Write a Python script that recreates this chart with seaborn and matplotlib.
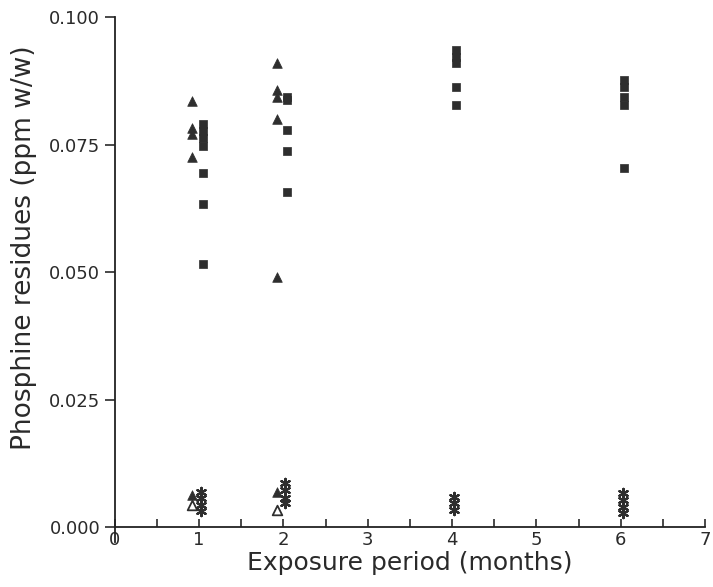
import matplotlib
matplotlib.use("Agg")
import matplotlib.pyplot as plt
import numpy as np
import pandas as pd
import seaborn as sns
from matplotlib.ticker import MultipleLocator

# Phosphine residues (ppm w/w) by exposure period (months)
sq_months = [1, 1, 1, 1, 1, 1, 1, 2, 2, 2, 2, 2, 4, 4, 4, 4, 4, 6, 6, 6, 6, 6]
sq_resid = [0.0790, 0.0776, 0.0763, 0.0747, 0.0694, 0.0633, 0.0516,
            0.0843, 0.0837, 0.0778, 0.0737, 0.0657,
            0.0935, 0.0922, 0.0910, 0.0863, 0.0827,
            0.0876, 0.0863, 0.0843, 0.0827, 0.0704]

tri_months = [1, 1, 1, 1, 1, 2, 2, 2, 2, 2, 2]
tri_resid = [0.0835, 0.0782, 0.0771, 0.0725, 0.0063,
             0.0910, 0.0857, 0.0843, 0.0800, 0.0490, 0.0069]

star_months = [1, 1, 1, 1, 2, 2, 2, 2, 4, 4, 4, 6, 6, 6, 6]
star_resid = [0.0069, 0.0057, 0.0043, 0.0031,
              0.0086, 0.0073, 0.0057, 0.0047,
              0.0059, 0.0047, 0.0033,
              0.0067, 0.0053, 0.0039, 0.0027]

otri_months = [1, 2]
otri_resid = [0.0043, 0.0033]

x_ticks = [0, 1, 2, 3, 4, 5, 6, 7]
y_ticks = [0.000, 0.025, 0.050, 0.075, 0.100]

sns.set_theme(style="ticks")
plt.rcParams["font.family"] = ["DejaVu Sans"]

ink = "#2e2e2e"
text_col = "#2a2a2a"
fig = plt.figure(figsize=(7.13, 5.87), dpi=100)
ax = fig.add_axes([0.161, 0.102, 0.828, 0.869])

def frame(months, resid, shift):
    return pd.DataFrame({"month": np.asarray(months, float) + shift,
                         "resid": resid})

sns.scatterplot(data=frame(sq_months, sq_resid, 0.04), x="month", y="resid",
                marker="s", s=40, color=ink, edgecolor=ink, linewidth=0.5, ax=ax)
sns.scatterplot(data=frame(tri_months, tri_resid, -0.08), x="month", y="resid",
                marker="^", s=48, color=ink, edgecolor=ink, linewidth=0.5, ax=ax)
sns.scatterplot(data=frame(star_months, star_resid, 0.02), x="month", y="resid",
                marker=(6, 2, 0), s=45, color=ink, linewidth=1.6, ax=ax)
sns.scatterplot(data=frame(otri_months, otri_resid, -0.08), x="month", y="resid",
                marker="^", s=48, facecolor="white", edgecolor=ink, linewidth=1.3, ax=ax)

ax.set_xlim(0, 7)
ax.set_ylim(0, 0.1)
ax.set_xticks(x_ticks)
ax.set_yticks(y_ticks)
ax.set_yticklabels([f"{v:.3f}" for v in y_ticks])
ax.xaxis.set_minor_locator(MultipleLocator(0.5))
ax.tick_params(axis="x", which="both", direction="in", length=6, width=1.2,
               labelsize=13, colors=text_col, pad=3)
ax.tick_params(axis="y", which="major", direction="out", length=7, width=1.2,
               labelsize=13, colors=text_col)
for side in ("left", "bottom"):
    ax.spines[side].set_linewidth(1.3)
    ax.spines[side].set_color("#222222")
sns.despine(ax=ax)
ax.spines["left"].set_bounds(-0.003, 0.1)
ax.spines["left"].set_clip_on(False)

ax.set_xlabel("Exposure period (months)", fontsize=18, color=text_col, labelpad=1)
ax.set_ylabel("Phosphine residues (ppm w/w)", fontsize=19, color=text_col)
ax.yaxis.set_label_coords(-0.131, 0.547)

fig.savefig("out.png", dpi=100, facecolor="white")
